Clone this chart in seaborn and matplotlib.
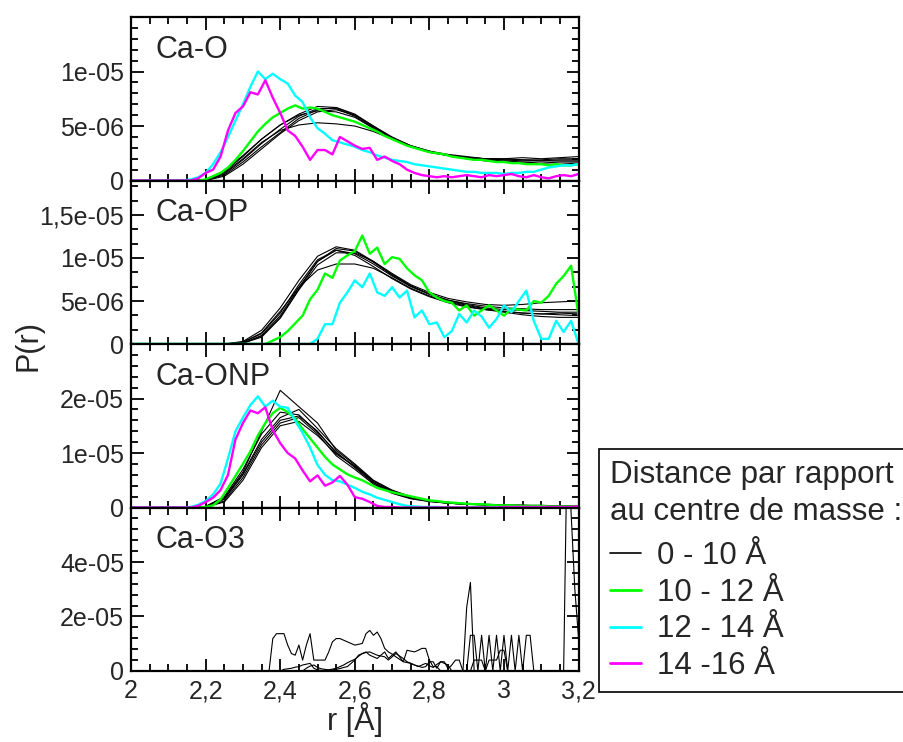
import numpy as np
import seaborn as sns
import matplotlib.pyplot as plt
from matplotlib.ticker import MultipleLocator
from matplotlib.lines import Line2D

# r grids (Angstrom)
r_fine = np.round(np.linspace(2.0, 3.2, 61), 2)     # step 0.02
r_coarse = np.round(np.linspace(2.0, 3.2, 25), 2)   # step 0.05

# ---------------- Ca-O  (values in 1e-6) ----------------
cao_black = [
    [0, 0, 0, 0, 0.05, 0.6, 1.9, 3.4, 4.7, 5.9, 6.6, 6.6, 5.9, 4.8, 3.8, 3.1, 2.6, 2.3, 2.1, 2.0, 1.9, 1.9, 1.8, 1.8, 1.8],
    [0, 0, 0, 0, 0.1, 0.8, 2.2, 3.8, 5.1, 6.1, 6.8, 6.7, 6.0, 4.9, 3.9, 3.2, 2.7, 2.4, 2.2, 2.0, 2.0, 1.9, 1.9, 2.0, 2.0],
    [0, 0, 0, 0, 0, 0.4, 1.5, 2.9, 4.3, 5.5, 6.3, 6.5, 6.0, 5.0, 4.0, 3.2, 2.7, 2.3, 2.1, 1.9, 1.8, 1.7, 1.6, 1.7, 1.7],
    [0, 0, 0, 0, 0.1, 0.7, 2.0, 3.5, 4.6, 5.1, 5.3, 5.2, 5.0, 4.5, 3.8, 3.1, 2.6, 2.3, 2.1, 2.0, 1.9, 1.8, 1.8, 1.9, 1.9],
    [0, 0, 0, 0, 0.05, 0.5, 1.7, 3.1, 4.4, 5.7, 6.5, 6.7, 6.1, 5.0, 3.9, 3.1, 2.6, 2.3, 2.0, 1.8, 1.7, 1.6, 1.5, 1.5, 1.6],
    [0, 0, 0, 0, 0.1, 0.9, 2.3, 3.8, 5.1, 6.0, 6.4, 6.3, 5.8, 4.8, 3.8, 3.1, 2.6, 2.3, 2.1, 2.0, 2.0, 2.1, 2.0, 2.1, 2.2],
]
cao_green = [0, 0, 0, 0, 0, 0, 0, 0, 0, 0,
             0.1, 0.4, 0.7, 1.2, 1.9, 2.7, 3.6, 4.5, 5.2, 5.8,
             6.2, 6.6, 6.9, 6.6, 6.7, 6.6, 6.3, 6.0, 5.8, 5.6,
             5.4, 5.1, 4.8, 4.5, 4.1, 3.8, 3.5, 3.2, 3.0, 2.8,
             2.6, 2.5, 2.4, 2.2, 2.1, 2.0, 1.9, 1.9, 1.8, 1.7,
             1.7, 1.6, 1.6, 1.5, 1.5, 1.5, 1.4, 1.5, 1.4, 1.4,
             1.5]
cao_cyan = [0, 0, 0, 0, 0, 0, 0, 0, 0.1, 0.3,
            0.7, 1.5, 2.6, 4.0, 5.5, 7.0, 8.6, 10.0, 9.3, 9.8,
            9.3, 8.9, 7.8, 7.2, 5.8, 4.8, 4.3, 3.7, 3.5, 3.3,
            3.1, 2.8, 2.6, 2.3, 2.1, 1.9, 1.8, 1.7, 1.5, 1.4,
            1.3, 1.2, 1.1, 1.0, 0.9, 0.8, 0.8, 0.7, 0.7, 0.7,
            0.6, 0.7, 0.7, 0.8, 0.8, 1.0, 1.2, 1.3, 1.4, 1.4,
            1.5]
cao_magenta = [0, 0, 0, 0, 0, 0, 0, 0, 0, 0.2,
               0.7, 1.0, 2.2, 4.6, 6.2, 6.8, 8.1, 7.9, 9.2, 7.6,
               6.2, 4.6, 4.1, 3.1, 1.9, 2.8, 2.8, 2.4, 4.0, 3.6,
               3.2, 2.9, 3.0, 1.9, 2.2, 1.8, 1.5, 1.0, 0.7, 0.5,
               0.4, 0.3, 0.4, 0.3, 0.4, 0.5, 0.4, 0.3, 0.5, 0.4,
               0.5, 0.6, 0.4, 0.3, 0.5, 0.3, 0.2, 0.4, 0.5, 0.4,
               0.6]

# ---------------- Ca-OP ----------------
caop_black = [
    [0, 0, 0, 0, 0, 0, 0.1, 1.0, 3.3, 6.6, 9.6, 11.1, 10.8, 9.5, 8.0, 6.7, 5.8, 5.1, 4.7, 4.4, 4.2, 4.1, 4.0, 4.0, 4.0],
    [0, 0, 0, 0, 0, 0, 0.3, 1.6, 4.2, 7.4, 10.2, 11.3, 10.9, 9.6, 8.1, 6.8, 5.8, 5.0, 4.5, 4.1, 3.8, 3.6, 3.5, 3.6, 3.5],
    [0, 0, 0, 0, 0, 0, 0.1, 0.8, 3.0, 6.3, 9.2, 10.6, 10.6, 9.6, 8.2, 6.9, 6.0, 5.3, 4.9, 4.6, 4.5, 4.6, 4.8, 4.9, 5.0],
    [0, 0, 0, 0, 0, 0, 0.2, 1.3, 3.8, 6.6, 8.6, 9.3, 9.3, 8.8, 7.7, 6.5, 5.6, 4.9, 4.4, 4.0, 3.7, 3.4, 3.2, 3.1, 3.1],
    [0, 0, 0, 0, 0, 0, 0.1, 0.9, 3.1, 6.4, 9.6, 10.9, 10.3, 9.0, 7.6, 6.4, 5.5, 4.8, 4.3, 4.0, 3.8, 3.6, 3.5, 3.4, 3.3],
    [0, 0, 0, 0, 0, 0, 0.2, 1.2, 3.6, 6.9, 9.8, 10.9, 10.5, 9.3, 7.9, 6.7, 5.8, 5.1, 4.6, 4.2, 4.0, 3.9, 3.8, 3.7, 3.7],
]
caop_green = [0, 0, 0, 0, 0, 0, 0, 0, 0, 0,
              0, 0, 0, 0, 0, 0, 0, 0, 0, 0.4,
              0.8, 1.5, 2.4, 3.3, 5.2, 6.3, 8.2, 7.7, 9.7, 10.3,
              10.8, 12.6, 10.5, 11.2, 9.3, 10.1, 9.9, 8.8, 8.0, 7.4,
              6.0, 5.4, 5.0, 4.8, 3.9, 4.5, 3.3, 3.9, 4.5, 3.9,
              3.3, 4.1, 4.0, 3.9, 5.0, 4.8, 5.6, 7.0, 7.9, 9.1,
              3.3]
caop_cyan = [0, 0, 0, 0, 0, 0, 0, 0, 0, 0,
             0, 0, 0, 0, 0, 0, 0, 0, 0, 0,
             0, 0, 0, 0, 0, 0.6, 2.3, 2.3, 4.8, 6.0,
             7.4, 6.6, 8.2, 6.0, 5.6, 6.6, 5.4, 6.2, 3.1, 3.9,
             2.3, 2.5, 0.8, 1.5, 3.5, 2.5, 3.9, 3.2, 1.9, 2.9,
             4.5, 3.7, 5.0, 6.2, 2.7, 0.6, 0.6, 2.7, 1.4, 2.7,
             0]

# ---------------- Ca-ONP ----------------
caonp_black = [
    [0, 0, 0, 0, 0.2, 1.8, 6.5, 14.0, 21.5, 18.5, 15.5, 10.5, 7.8, 4.8, 3.0, 1.9, 1.2, 0.8, 0.6, 0.5, 0.4, 0.3, 0.3, 0.3, 0.2],
    [0, 0, 0, 0, 0.1, 1.5, 6.0, 12.0, 16.0, 16.8, 14.0, 10.0, 7.5, 4.6, 2.8, 1.8, 1.2, 0.8, 0.6, 0.5, 0.4, 0.3, 0.3, 0.2, 0.2],
    [0, 0, 0, 0, 0.1, 1.2, 5.5, 11.5, 15.5, 16.5, 13.5, 9.5, 7.0, 4.3, 2.6, 1.6, 1.1, 0.8, 0.6, 0.5, 0.4, 0.3, 0.3, 0.3, 0.2],
    [0, 0, 0, 0, 0.2, 2.0, 7.0, 13.5, 17.5, 17.0, 13.8, 10.2, 7.3, 4.5, 2.7, 1.7, 1.1, 0.8, 0.6, 0.5, 0.4, 0.4, 0.3, 0.3, 0.3],
    [0, 0, 0, 0, 0.1, 1.6, 6.2, 12.5, 16.5, 18.0, 14.5, 10.8, 8.0, 5.0, 3.2, 2.0, 1.3, 0.9, 0.7, 0.5, 0.4, 0.4, 0.3, 0.3, 0.3],
    [0, 0, 0, 0, 0.1, 1.0, 5.0, 11.0, 15.0, 15.8, 13.2, 9.8, 7.6, 4.9, 3.0, 1.8, 1.2, 0.9, 0.7, 0.6, 0.5, 0.4, 0.4, 0.3, 0.3],
]
caonp_green = [0, 0, 0, 0, 0, 0, 0, 0, 0, 0,
               0.1, 0.4, 1.5, 3.6, 5.8, 8.0, 10.3, 13.2, 15.5, 17.3,
               18.3, 17.5, 16.3, 14.4, 12.7, 11.0, 9.3, 7.9, 7.0, 6.1,
               5.5, 5.0, 4.3, 3.6, 3.2, 2.8, 2.5, 2.2, 1.9, 1.6,
               1.3, 1.2, 1.0, 0.9, 0.8, 0.7, 0.6, 0.6, 0.5, 0.4,
               0.4, 0.4, 0.3, 0.3, 0.3, 0.3, 0.2, 0.2, 0.2, 0.2,
               0.2]
caonp_cyan = [0, 0, 0, 0, 0, 0, 0, 0, 0.1, 0.5,
              1.2, 2.4, 4.4, 9.0, 14.0, 16.5, 18.8, 20.4, 18.5, 19.6,
              18.5, 18.3, 15.9, 13.7, 11.0, 7.8, 6.0, 5.0, 4.8, 4.2,
              3.6, 2.9, 2.4, 1.8, 1.4, 1.0, 0.6, 0.3, 0.2, 0.1,
              0.1, 0.1, 0, 0, 0, 0, 0, 0, 0, 0,
              0, 0, 0, 0, 0, 0, 0, 0, 0, 0,
              0]
caonp_magenta = [0, 0, 0, 0, 0, 0, 0, 0, 0, 0.3,
                 1.0, 1.8, 3.2, 6.0, 12.5, 15.5, 17.8, 17.3, 18.4, 14.2,
                 11.8, 10.0, 9.0, 6.8, 4.8, 5.9, 4.0, 4.6, 5.8, 4.2,
                 1.9, 1.6, 1.0, 0.3, 0.1, 0.1, 0, 0, 0, 0,
                 0, 0, 0, 0, 0, 0, 0, 0, 0, 0,
                 0.1, 0.1, 0.1, 0.1, 0.1, 0.1, 0.1, 0.1, 0.1, 0.1,
                 0.2]

# ---------------- Ca-O3 (0.01 steps, each curve with its own start) ----------------
cao3_q1_start = 2.37
cao3_q1 = [0, 11.9, 13.7, 13.7, 13.7, 9.5, 6.4, 5.8, 9.5, 4.0,
           9.5, 13.7, 4.0, 4.0, 4.0, 4.0, 7.0, 10.7, 11.9, 11.9,
           11.3, 10.7, 10.1, 9.5, 9.8, 10.1, 13.7, 14.9, 13.1, 14.3,
           11.9, 8.3, 7.0, 6.2, 5.2, 4.3, 3.4, 7.6, 7.3, 7.0,
           7.6, 8.3, 8.3, 4.0, 1.6, 1.6, 0]
cao3_q2_start = 2.40
cao3_q2 = [0, 0.6, 0.8, 1.0, 1.4, 1.6, 2.2, 2.5, 2.8, 1.0,
           0.4, 0.2, 0.2, 0.3, 0.4, 0.6, 0.9, 1.3, 1.6, 2.8,
           4.0, 5.8, 6.4, 7.0, 5.8, 5.2, 4.6, 5.8, 7.0, 4.6,
           5.8, 7.0, 5.2, 3.4, 3.1, 2.8, 2.2, 1.6, 2.2, 2.8,
           1.9, 1.3, 2.4, 3.4, 2.8, 2.2, 0]
cao3_q3_start = 2.46
cao3_q3 = [0, 1.0, 1.8, 2.2, 1.3, 0.8, 0.6, 0.4, 0.7, 1.0,
           1.6, 2.2, 3.0, 3.7, 4.3, 5.4, 6.4, 6.8, 7.0, 6.4,
           5.8, 5.5, 5.2, 4.0, 5.2, 6.4, 5.5, 4.6, 3.4, 2.8,
           2.2, 1.8, 1.3, 1.6, 3.4, 3.4, 1.0, 3.4, 3.4, 0.8,
           2.2, 4.0, 4.0, 0]
cao3_q4_start = 2.88
cao3_q4 = [0, 0, 23.4, 32.5, 0, 0, 0, 0, 0, 0,
           0, 0, 0, 0, 0, 0, 0, 0, 0, 0,
           0, 0, 0, 0, 0, 0, 0, 0, 0, 90.0,
           58.0, 30.0, 12.0]
cao3_q5_start = 2.90
cao3_q5 = [0, 13.1, 13.1, 0, 13.1, 0, 13.1, 0, 13.1, 0,
           13.1, 0, 13.1, 0, 13.1, 0, 13.1, 13.1, 0]
cao3_q6_start = 2.90
cao3_q6 = [0, 0, 4.0, 4.0, 4.0, 0, 4.0, 4.0, 4.0, 7.6,
           7.6, 0]

# axis / labels
panel_names = ["Ca-O", "Ca-OP", "Ca-ONP", "Ca-O3"]
legend_labels = ["0 - 10 Å", "10 - 12 Å", "12 - 14 Å", "14 -16 Å"]
legend_colors = ["black", "#00ff00", "#00ffff", "#ff00ff"]
x_ticks = [2.0, 2.2, 2.4, 2.6, 2.8, 3.0, 3.2]
x_ticklabels = ["2", "2,2", "2,4", "2,6", "2,8", "3", "3,2"]
y_ticks = [[0, 5e-6, 1e-5], [0, 5e-6, 1e-5, 1.5e-5], [0, 1e-5, 2e-5], [0, 2e-5, 4e-5]]
y_ticklabels = [["0", "5e-06", "1e-05"], ["0", "5e-06", "1e-05", "1,5e-05"],
                ["0", "1e-05", "2e-05"], ["0", "2e-05", "4e-05"]]
y_tops = [1.5e-5, 1.9e-5, 3.0e-5, 6.0e-5]
y_minor = [1e-6, 5e-6 / 3, 2e-6, 4e-6]

sns.set_style("ticks")
plt.rcParams["font.family"] = ["Liberation Sans", "DejaVu Sans"]

fig, axes = plt.subplots(4, 1, sharex=True, figsize=(9.04, 7.42), dpi=100)
fig.subplots_adjust(left=0.145, right=0.640, bottom=0.0957, top=0.977, hspace=0)

GREEN, CYAN, MAGENTA = legend_colors[1:]
BLW, CLW = 0.8, 1.7


def grid01(start, vals):
    return np.round(start + 0.01 * np.arange(len(vals)), 2)


def draw(ax, x, vals, color, lw):
    sns.lineplot(x=x, y=np.array(vals) * 1e-6, color=color, lw=lw, ax=ax,
                 estimator=None, sort=False, legend=False)


# Ca-O
for c in cao_black:
    draw(axes[0], r_coarse, c, "black", BLW)
draw(axes[0], r_fine, cao_green, GREEN, CLW)
draw(axes[0], r_fine, cao_cyan, CYAN, CLW)
draw(axes[0], r_fine, cao_magenta, MAGENTA, CLW)

# Ca-OP
for c in caop_black:
    draw(axes[1], r_coarse, c, "black", BLW)
draw(axes[1], r_fine, caop_green, GREEN, CLW)
draw(axes[1], r_fine, caop_cyan, CYAN, CLW)

# Ca-ONP
for c in caonp_black:
    draw(axes[2], r_coarse, c, "black", BLW)
draw(axes[2], r_fine, caonp_green, GREEN, CLW)
draw(axes[2], r_fine, caonp_cyan, CYAN, CLW)
draw(axes[2], r_fine, caonp_magenta, MAGENTA, CLW)

# Ca-O3
for s, c in [(cao3_q1_start, cao3_q1), (cao3_q2_start, cao3_q2), (cao3_q3_start, cao3_q3),
             (cao3_q4_start, cao3_q4), (cao3_q5_start, cao3_q5), (cao3_q6_start, cao3_q6)]:
    draw(axes[3], grid01(s, c), c, "black", BLW)

for i, ax in enumerate(axes):
    ax.set_xlim(2.0, 3.2)
    ax.set_ylim(0, y_tops[i])
    ax.set_yticks(y_ticks[i], y_ticklabels[i])
    ax.yaxis.set_minor_locator(MultipleLocator(y_minor[i]))
    ax.xaxis.set_minor_locator(MultipleLocator(0.05))
    ax.set_xticks(x_ticks)
    ax.set_ylabel("")
    ax.set_xlabel("")
    ax.tick_params(which="both", direction="in", top=True, right=True, width=1.3,
                   labelsize=18, pad=5, color="black")
    ax.tick_params(which="major", length=9)
    ax.tick_params(which="minor", length=5)
    for sp in ax.spines.values():
        sp.set_visible(True)
        sp.set_linewidth(1.6)
        sp.set_color("black")
    ax.text(0.054, 0.80, panel_names[i], transform=ax.transAxes, fontsize=22,
            ha="left", va="center")
    if i < 3:
        ax.tick_params(labelbottom=False)

axes[3].set_xticklabels(x_ticklabels)
axes[3].tick_params(axis="x", pad=6)

fig.text(0.031, 0.535, "P(r)", rotation=90, fontsize=22, ha="center", va="center")
fig.text(0.393, 0.03, "r [Å]", fontsize=22, ha="center", va="center")

handles = [Line2D([], [], color=c, lw=1.2 if c == "black" else 2.0) for c in legend_colors]
leg = fig.legend(handles, legend_labels, title="Distance par rapport\nau centre de masse :",
                 loc="upper left", bbox_to_anchor=(599 / 904, 1 - 449 / 742),
                 frameon=True, fancybox=False, edgecolor="black", framealpha=1,
                 fontsize=22.5, title_fontsize=22.5, handlelength=1.0, handletextpad=0.5,
                 labelspacing=0.22, borderpad=0.35, borderaxespad=0, alignment="left")
leg.get_frame().set_linewidth(1.2)
leg.get_title().set_linespacing(1.3)
leg._legend_box.sep = 10

fig.savefig("out.png", dpi=100)
